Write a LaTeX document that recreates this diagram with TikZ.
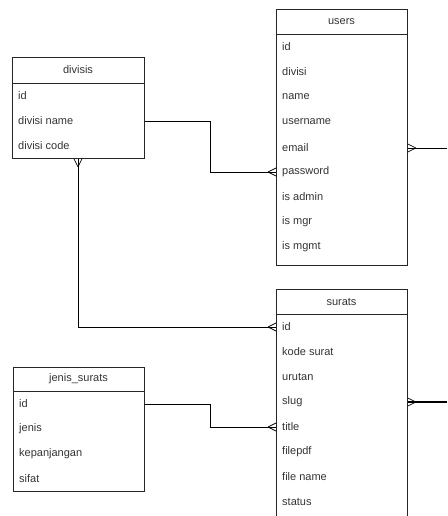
\documentclass[tikz,border=0pt]{standalone}
\usepackage{fontspec}
\setmainfont{Liberation Sans}
\begin{document}
\begin{tikzpicture}[x=1pt,y=1pt,
  tbox/.style={draw=black!85, line width=0.8pt, inner sep=0pt, anchor=north west},
  rowtxt/.style={anchor=west, inner sep=0pt, text=black!80, font=\fontsize{11}{13}\selectfont},
  hdtxt/.style={inner sep=0pt, text=black!80, font=\fontsize{11}{13}\selectfont},
  conn/.style={draw=black, line width=0.8pt},
  crow/.pic={\draw[black, line width=0.7pt] (8,0) -- (0,4) (8,0) -- (0,-4);}
]
\useasboundingbox (0,0) rectangle (447,-516);
\clip (0,0) rectangle (447,-516);

% divisis
\node[tbox, minimum width=132pt, minimum height=101pt] (divisis) at (12,-57) {};
\draw[black!85, line width=0.8pt] (divisis.north west |- 0,-83) coordinate (dh) -- (divisis.east |- dh);
\node[hdtxt] (divisis-t) at (78,-70) {divisis};
\node[rowtxt] (divisis-id) at (18,-96) {id};
\node[rowtxt] (divisis-name) at (18,-121) {divisi name};
\node[rowtxt] (divisis-code) at (18,-146) {divisi code};

% users
\node[tbox, minimum width=131pt, minimum height=256pt] (users) at (276,-9) {};
\draw[black!85, line width=0.8pt] (users.north west |- 0,-34) coordinate (uh) -- (users.east |- uh);
\node[hdtxt] (users-t) at (341.5,-21.5) {users};
\node[rowtxt] (users-id) at (282,-47) {id};
\node[rowtxt] (users-divisi) at (282,-72) {divisi};
\node[rowtxt] (users-name) at (282,-97) {name};
\node[rowtxt] (users-username) at (282,-122) {username};
\node[rowtxt] (users-email) at (282,-148) {email};
\node[rowtxt] (users-password) at (282,-172) {password};
\node[rowtxt] (users-isadmin) at (282,-197) {is admin};
\node[rowtxt] (users-ismgr) at (282,-222) {is mgr};
\node[rowtxt] (users-ismgmt) at (282,-247) {is mgmt};

% surats
\node[tbox, minimum width=131pt, minimum height=240pt] (surats) at (276,-289) {};
\draw[black!85, line width=0.8pt] (surats.north west |- 0,-314) coordinate (sh) -- (surats.east |- sh);
\node[hdtxt] (surats-t) at (341.5,-301.5) {surats};
\node[rowtxt] (surats-id) at (282,-327) {id};
\node[rowtxt] (surats-kode) at (282,-352) {kode surat};
\node[rowtxt] (surats-urutan) at (282,-377) {urutan};
\node[rowtxt] (surats-slug) at (282,-402) {slug};
\node[rowtxt] (surats-title) at (282,-427) {title};
\node[rowtxt] (surats-filepdf) at (282,-452) {filepdf};
\node[rowtxt] (surats-filename) at (282,-477) {file name};
\node[rowtxt] (surats-status) at (282,-502) {status};

% jenis_surats
\node[tbox, minimum width=131pt, minimum height=124pt] (jenis) at (13,-367) {};
\draw[black!85, line width=0.8pt] (jenis.north west |- 0,-391) coordinate (jh) -- (jenis.east |- jh);
\node[hdtxt] (jenis-t) at (78.5,-379) {jenis\_surats};
\node[rowtxt] (jenis-id) at (19,-404) {id};
\node[rowtxt] (jenis-jenis) at (19,-429) {jenis};
\node[rowtxt] (jenis-kep) at (19,-454) {kepanjangan};
\node[rowtxt] (jenis-sifat) at (19,-479) {sifat};

% right-edge free ends
\coordinate (rE) at (447,-148);
\coordinate (rS) at (447,-402);

% connectors
\draw[conn] (divisis.east |- divisis-name) -- (210,-121) -- (210,-172) -- (users.west |- users-password);
\pic[rotate=180] at (users.west |- users-password) {crow};

\draw[conn] (divisis.south -| 78,0) -- (78,-327) -- (surats.west |- surats-id);
\pic[rotate=-90] at (divisis.south -| 78,0) {crow};
\pic[rotate=180] at (surats.west |- surats-id) {crow};

\draw[conn] (jenis.east |- jenis-id) -- (210,-404) -- (210,-427) -- (surats.west |- surats-title);
\pic[rotate=180] at (surats.west |- surats-title) {crow};

\draw[conn] (users.east |- users-email) -- (rE);
\pic at (users.east |- users-email) {crow};

\draw[conn, line width=1.6pt] (surats.east |- surats-slug) -- (rS);
\pic at (surats.east |- surats-slug) {crow};
\end{tikzpicture}
\end{document}
